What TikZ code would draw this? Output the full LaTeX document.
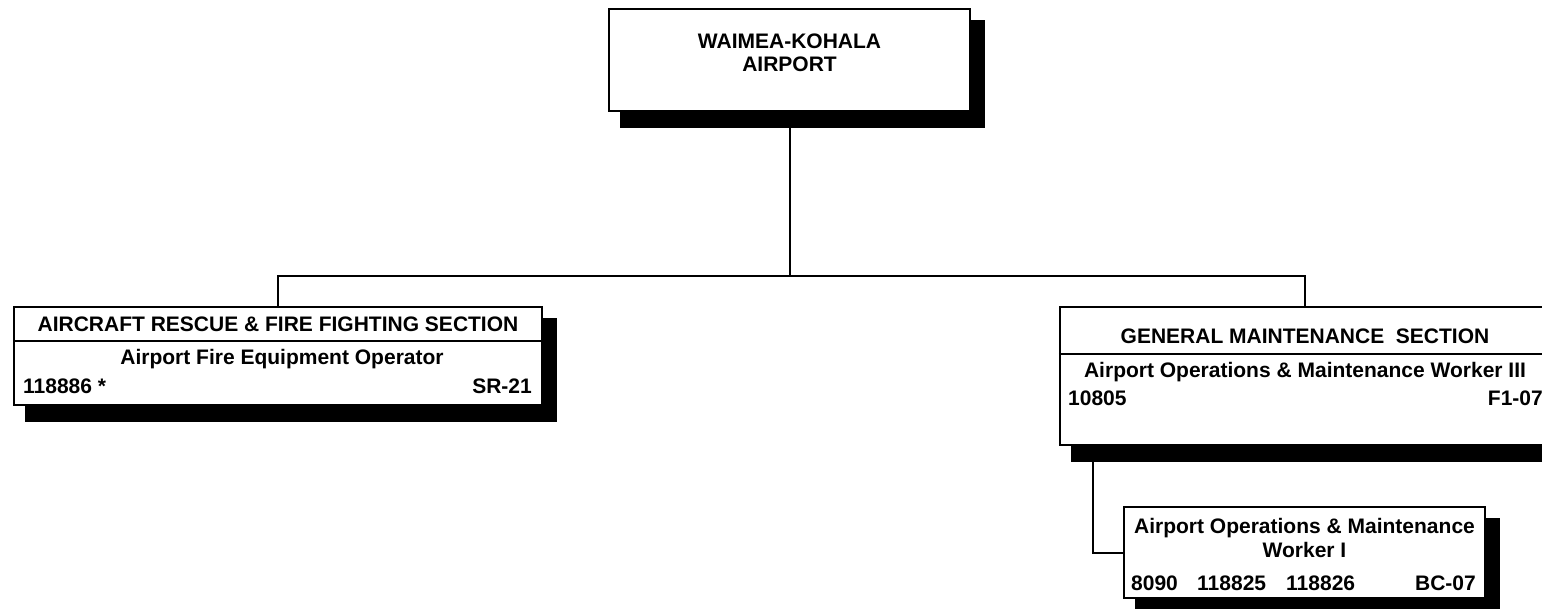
\documentclass[tikz,border=0pt]{standalone}
\usepackage{fontspec}
\setmainfont{Liberation Sans}
\pgfdeclarelayer{background}
\pgfsetlayers{background,main}
\tikzset{
  orgbox/.style={draw, line width=2.2pt, fill=white, inner sep=0pt},
  conn/.style={line width=2pt},
  divider/.style={line width=2.2pt},
  txt/.style={anchor=base, inner sep=0pt, font=\fontsize{21}{25}\selectfont\bfseries},
}
\begin{document}
\begin{tikzpicture}[x=1pt,y=-1pt]
\useasboundingbox (0,0) rectangle (1542,609);
% boxes
\node[orgbox, minimum width=361pt, minimum height=102pt] (top) at (789.5,60) {};
\node[orgbox, minimum width=528pt, minimum height=98pt] (left) at (278,356) {};
\node[orgbox, minimum width=490pt, minimum height=138pt] (right) at (1305,376) {};
\node[orgbox, minimum width=361pt, minimum height=91pt] (sub) at (1304.5,552.5) {};
% dividers
\coordinate (ldiv) at (0,341);
\coordinate (rdiv) at (0,354);
\draw[divider] (left.west |- ldiv) -- (left.east |- ldiv);
\draw[divider] (right.west |- rdiv) -- (right.east |- rdiv);
\coordinate (bus) at (789.5,276);
\begin{pgfonlayer}{background}
  \draw[conn] (top.south) -- (bus);
  \draw[conn] (left.north) |- (bus) -| (right.north);
  \draw[conn] ([xshift=34pt]right.south west) |- (sub.west);
  \fill ([shift={(12,12)}]top.north west) rectangle ([shift={(14,16)}]top.south east);
  \fill ([shift={(12,12)}]left.north west) rectangle ([shift={(14,16)}]left.south east);
  \fill ([shift={(12,12)}]right.north west) rectangle ([shift={(14,16)}]right.south east);
  \fill ([shift={(12,12)}]sub.north west) rectangle ([shift={(14,16)}]sub.south east);
\end{pgfonlayer}
% texts
\node[txt] (t1) at (789.5,49) {WAIMEA-KOHALA};
\node[txt] (t2) at (789.5,72) {AIRPORT};
\node[txt] (l1) at (278,332) {AIRCRAFT RESCUE \& FIRE FIGHTING SECTION};
\node[txt] (l2) at (282,365) {Airport Fire Equipment Operator};
\node[txt, anchor=base west] (l3) at (23,393) {118886 *};
\node[txt, anchor=base east] (l4) at (532,393) {SR-21};
\node[txt] (r1) at (1305,344) {GENERAL MAINTENANCE\ \ SECTION};
\node[txt] (r2) at (1305,378) {Airport Operations \& Maintenance Worker III};
\node[txt, anchor=base west] (r3) at (1068,406) {10805};
\node[txt, anchor=base east] (r4) at (1543,406) {F1-07};
\node[txt] (s1) at (1304.5,533) {Airport Operations \& Maintenance};
\node[txt] (s2) at (1304.5,557) {Worker I};
\node[txt, anchor=base west] (s3) at (1131,590) {8090};
\node[txt, anchor=base west] (s4) at (1197,590) {118825};
\node[txt, anchor=base west] (s5) at (1286,590) {118826};
\node[txt, anchor=base east] (s6) at (1476,590) {BC-07};
\end{tikzpicture}
\end{document}
